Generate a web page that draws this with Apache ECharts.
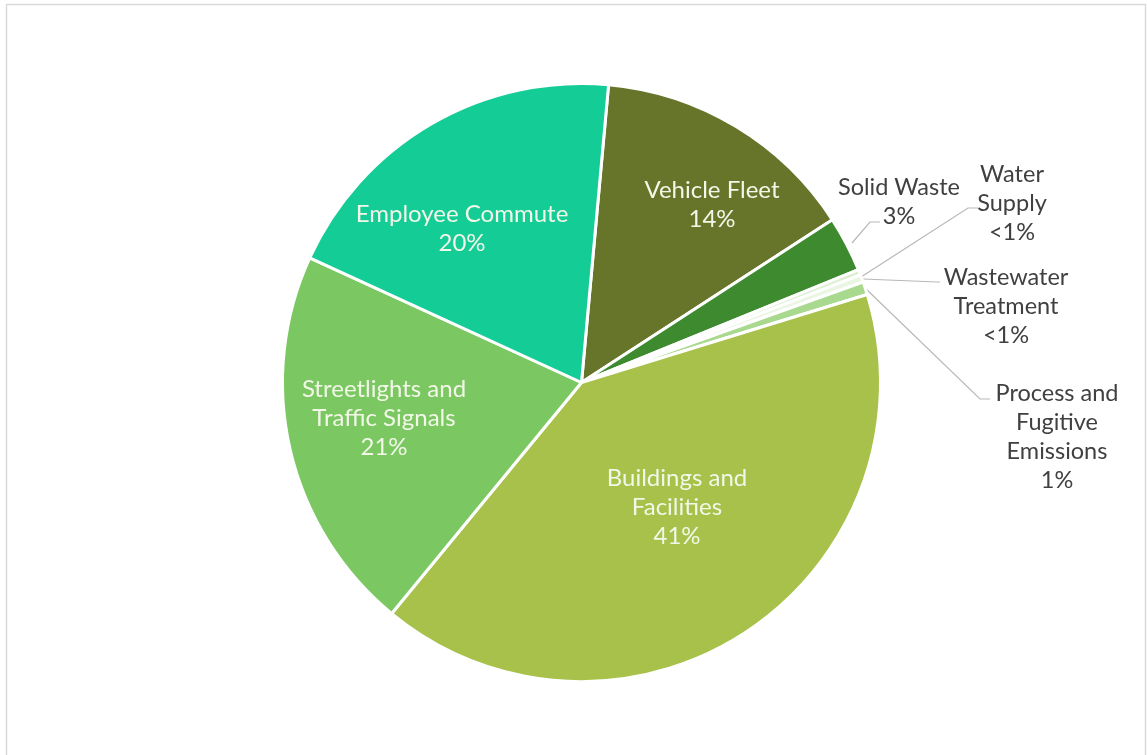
<!DOCTYPE html>
<html>
<head>
<meta charset="utf-8">
<script src="https://cdn.jsdelivr.net/npm/echarts@6/dist/echarts.min.js"></script>
<style>
html,body{margin:0;padding:0;background:#fff;}
#chart{width:1147px;height:755px;}
</style>
</head>
<body>
<div id="chart"></div>
<script>
// Data (clockwise from the top)
const categories = ['Vehicle Fleet', 'Solid Waste', 'Water\nSupply', 'Wastewater\nTreatment',
  'Process and\nFugitive\nEmissions', 'Buildings and\nFacilities', 'Streetlights and\nTraffic Signals', 'Employee Commute'];
const values = [14.4, 3.0, 0.3, 0.4, 0.7, 40.7, 20.9, 19.6];

// Styling (kept separate from the data)
const colors = ['#66752a', '#3d8a2f', '#dcefd0', '#eaf5e2', '#a9d98f', '#a7c14a', '#7bc862', '#14cc96'];
const inside = [true, false, false, false, false, true, true, true];
const labelPos = [[712, 205], [899, 202], [1012, 203], [1006, 306], [1057, 437], [677, 507], [384, 418], [462, 229]];
const guidePts = [null,
  [[852, 243], [870, 222], [880, 222]],
  [[861, 277], [968, 208], [978, 208]],
  [[863, 279], [937, 282], [940, 282]],
  [[864, 287], [980, 399], [990, 399]],
  null, null, null];

const chart = echarts.init(document.getElementById('chart'));
const data = categories.map((name, i) => ({
  name: name,
  value: values[i],
  itemStyle: { color: colors[i] },
  label: inside[i]
    ? { position: 'inside', color: '#f2f7e8', fontSize: 24 }
    : { position: 'outside', color: '#404040', fontSize: 23.5 },
  labelLine: { show: !inside[i] }
}));

chart.setOption({
  animation: false,
  backgroundColor: '#ffffff',
  graphic: [{
    type: 'rect',
    shape: { x: 6.5, y: 4.5, width: 1139, height: 800 },
    style: { fill: 'none', stroke: '#d9d9d9', lineWidth: 1.5 },
    silent: true
  }],
  series: [{
    type: 'pie',
    center: [581.5, 382.5],
    radius: [0, 299],
    startAngle: 84.8,
    clockwise: true,
    avoidLabelOverlap: false,
    itemStyle: { borderColor: '#ffffff', borderWidth: 3 },
    label: {
      show: true,
      fontFamily: 'Lato',
      fontSize: 24,
      lineHeight: 29,
      align: 'center',
      formatter: function (p) {
        const pct = p.value < 0.5 ? '<1%' : Math.round(p.value) + '%';
        return p.name + '\n' + pct;
      }
    },
    labelLine: {
      show: true,
      length: 10,
      length2: 10,
      lineStyle: { color: '#b8b8b8', width: 1.2 }
    },
    labelLayout: function (params) {
      const i = params.dataIndex;
      const o = {
        x: labelPos[i][0],
        y: labelPos[i][1],
        align: 'center',
        verticalAlign: 'middle'
      };
      if (guidePts[i]) o.labelLinePoints = guidePts[i];
      return o;
    },
    data: data
  }]
});
</script>
</body>
</html>
